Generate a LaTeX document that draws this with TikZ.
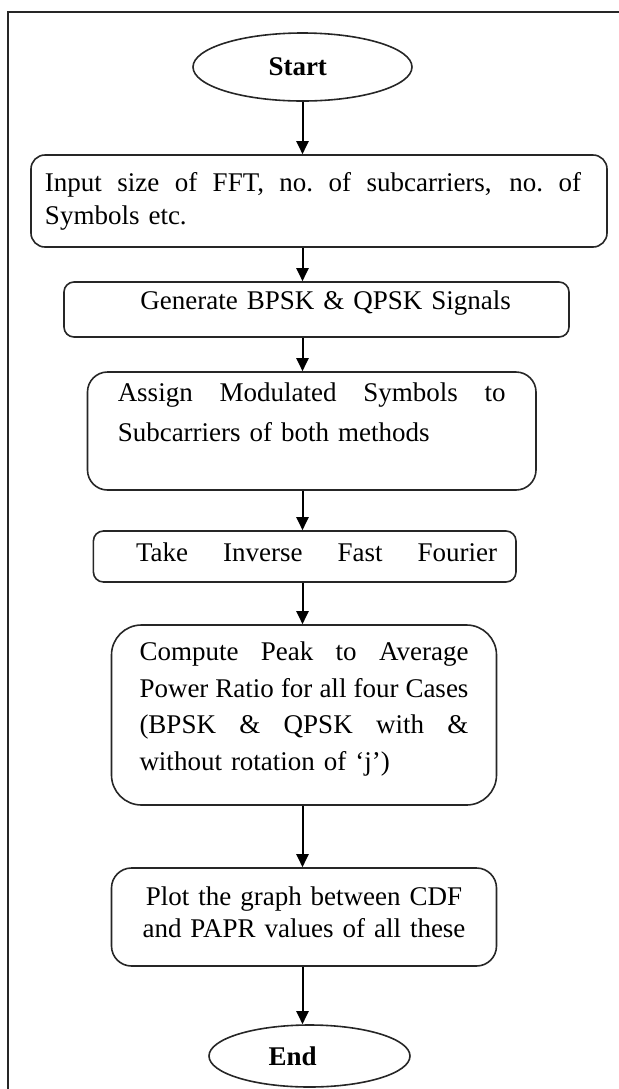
\documentclass[tikz,border=0pt]{standalone}
\usepackage{fontspec}
\setmainfont{Liberation Serif}
\usetikzlibrary{arrows.meta,shapes.geometric}
\newcommand{\spreadline}[2][\linewidth]{\makebox[#1][s]{\spaceskip=0.25em plus 1fil\xspaceskip=\spaceskip\relax #2}}
\newcommand{\tailgap}[1]{\rule[-#1]{0pt}{#1}}

\begin{document}
\begin{tikzpicture}[x=0.5pt,y=-0.5pt,
	procbox/.style={draw=black!85, line width=0.8pt, inner ysep=0pt, align=left, font=\fontsize{13.5pt}{18pt}\selectfont},
	termnode/.style={ellipse, draw=black!85, line width=0.8pt, inner sep=0pt, align=left, font=\bfseries\fontsize{13.5pt}{16pt}\selectfont},
	flowarrow/.style={-{Triangle[length=6.5pt,width=6pt]}, line width=1pt}]
	\useasboundingbox (0,0) rectangle (618,1089);
	\draw[line width=1.1pt, black!85] (8,1100) -- (8,12) -- (630,12);
	\node[termnode, minimum width=109.5pt, minimum height=34pt, text width=34pt] (start) at (302.5,67) {Start};
	\node[procbox, rounded corners=7pt, minimum width=288pt, minimum height=46pt, text width=274pt, inner xsep=7pt, font=\fontsize{13.5pt}{16.5pt}\selectfont] (input) at (319,201) {\spreadline[268pt]{Input size of FFT, no. of subcarriers, no. of}\\Symbols etc.};
	\node[procbox, rounded corners=5pt, minimum width=252.5pt, minimum height=27.5pt, text width=194.5pt, inner xsep=29pt, align=right] (gen) at (316.5,309.5) {Generate BPSK \& QPSK Signals\tailgap{9pt}};
	\node[procbox, rounded corners=10pt, minimum width=224.25pt, minimum height=59pt, text width=194pt, inner xsep=15.1pt, font=\fontsize{13.5pt}{20pt}\selectfont] (assign) at (311.75,431) {\spreadline{Assign Modulated Symbols to}\\Subcarriers of both methods\tailgap{19pt}};
	\node[procbox, rounded corners=5pt, minimum width=211.3pt, minimum height=25.5pt, text width=192.3pt, inner xsep=9.5pt, align=right] (ifft) at (304.7,556.5) {\spreadline[180.5pt]{Take Inverse Fast Fourier}\tailgap{4pt}};
	\node[procbox, rounded corners=15pt, minimum width=192.5pt, minimum height=90pt, text width=164.5pt, inner xsep=14pt, font=\fontsize{13.5pt}{18.3pt}\selectfont] (papr) at (304,715) {\spreadline{Compute Peak to Average}\\\spreadline{Power Ratio for all four Cases}\\\spreadline{(BPSK \& QPSK with \&}\\without rotation of ‘j’)\tailgap{9pt}};
	\node[procbox, rounded corners=10pt, minimum width=192.5pt, minimum height=49pt, text width=170pt, inner xsep=11.25pt, align=center, font=\fontsize{13.5pt}{16pt}\selectfont] (plot) at (304,917) {Plot the graph between CDF\\and PAPR values of all these\tailgap{5pt}};
	\node[termnode, minimum width=100.5pt, minimum height=31pt, text width=41pt] (finish) at (309.5,1056) {End};
	\draw[flowarrow] (start.south) -- (start.south |- input.north);
	\draw[flowarrow] (input.south -| start.south) -- (start.south |- gen.north);
	\draw[flowarrow] (gen.south -| start.south) -- (start.south |- assign.north);
	\draw[flowarrow] (assign.south -| start.south) -- (start.south |- ifft.north);
	\draw[flowarrow] (ifft.south -| start.south) -- (start.south |- papr.north);
	\draw[flowarrow] (papr.south -| start.south) -- (start.south |- plot.north);
	\draw[flowarrow] (plot.south -| start.south) -- (start.south |- finish.north);
\end{tikzpicture}
\end{document}
